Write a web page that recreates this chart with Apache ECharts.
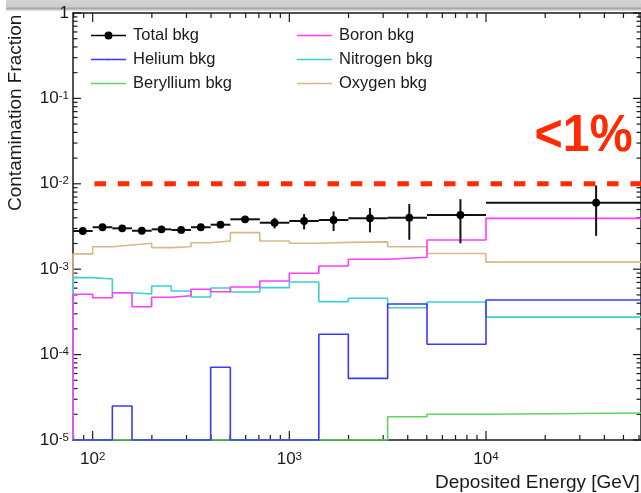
<!DOCTYPE html>
<html>
<head>
<meta charset="utf-8">
<script src="https://cdn.jsdelivr.net/npm/echarts@6/dist/echarts.min.js"></script>
<style>
  html, body { margin: 0; padding: 0; background: #fff; }
  #chart { width: 641px; height: 493px; }
</style>
</head>
<body>
<div id="chart"></div>
<script>
// Energy bin edges [GeV]
const binEdges = [79.43, 100, 125.9, 158.5, 199.5, 251.2, 316.2, 398.1, 501.2,
                  707.9, 1000, 1412.5, 1995.3, 3162.3, 5011.9, 10000, 100000];

// Contamination per background species, one value per bin (0 = empty bin)
const heliumBkg    = [0, 0, 2.5e-5, 0, 0, 0, 0, 7.1e-5, 0, 0, 0, 1.73e-4, 5.27e-5, 3.92e-4, 1.32e-4, 4.36e-4];
const berylliumBkg = [0, 0, 0, 0, 0, 0, 0, 0, 0, 0, 0, 0, 0, 1.87e-5, 2.0e-5, 2.09e-5];
const boronBkg     = [5.08e-4, 4.64e-4, 5.31e-4, 3.64e-4, 4.69e-4, 4.89e-4, 5.82e-4, 5.45e-4,
                      6.19e-4, 7.28e-4, 8.95e-4, 1.09e-3, 1.31e-3, 1.38e-3, 2.20e-3, 3.94e-3];
const nitrogenBkg  = [7.96e-4, 7.67e-4, 5.31e-4, 5.13e-4, 6.36e-4, 5.55e-4, 4.72e-4, 6.03e-4,
                      5.41e-4, 6.08e-4, 7.08e-4, 4.17e-4, 4.56e-4, 3.54e-4, 4.13e-4, 2.75e-4];
const oxygenBkg    = [1.51e-3, 1.83e-3, 1.92e-3, 2.01e-3, 1.79e-3, 1.83e-3, 2.04e-3, 2.14e-3,
                      2.68e-3, 2.14e-3, 2.01e-3, 2.06e-3, 2.09e-3, 1.83e-3, 1.53e-3, 1.21e-3];

// Total background: point energy, value and symmetric error
const totalEnergy = [89.1, 112.2, 141.3, 177.8, 223.9, 281.8, 354.8, 446.7,
                     595.7, 841.4, 1188.5, 1678.8, 2570, 4074, 7413, 36300];
const totalBkg    = [2.80e-3, 3.10e-3, 3.01e-3, 2.82e-3, 2.93e-3, 2.88e-3, 3.10e-3, 3.32e-3,
                     3.84e-3, 3.50e-3, 3.67e-3, 3.77e-3, 3.95e-3, 4.01e-3, 4.31e-3, 6.01e-3];
const totalErr    = [1.0e-4, 1.2e-4, 1.3e-4, 1.4e-4, 1.6e-4, 1.8e-4, 2.0e-4, 2.5e-4,
                     3.0e-4, 5.0e-4, 7.5e-4, 9.7e-4, 1.25e-3, 1.8e-3, 2.3e-3, 3.55e-3];

// Required contamination level
const limitLevel = 0.01;
const limitStart = 100;

// Axis ranges and tick values
const X_MIN = 79.43, X_MAX = 61400;
const Y_MIN = 1e-5, Y_MAX = 1;
const xMajorTicks = [100, 1000, 10000];
const xMinorTicks = [80, 90, 200, 300, 400, 500, 600, 700, 800, 900,
                     2000, 3000, 4000, 5000, 6000, 7000, 8000, 9000,
                     20000, 30000, 40000, 50000, 60000];
const yMajorTicks = [1e-5, 1e-4, 1e-3, 1e-2, 1e-1, 1];
const yMinorTicks = [];
[1e-5, 1e-4, 1e-3, 1e-2, 1e-1].forEach(function (d) {
  for (let k = 2; k <= 9; k++) yMinorTicks.push(+(d * k).toPrecision(3));
});

const FONT = '"Liberation Sans", Arial, Helvetica, sans-serif';
const INK = '#1a1a1a';
const MAJOR_LEN = 9, MINOR_LEN = 5;

// Histogram outline: rise from the axis floor, then a step per bin
function histSteps(values) {
  const pts = [[binEdges[0], Y_MIN]];
  values.forEach(function (v, i) {
    pts.push([binEdges[i], v > 0 ? v : Y_MIN]);
  });
  const last = values[values.length - 1];
  pts.push([binEdges[values.length], last > 0 ? last : Y_MIN]);
  return pts;
}

function stepSeries(name, values, color) {
  return {
    type: 'line', name: name, step: 'end', symbol: 'none',
    data: histSteps(values), clip: true, z: 5,
    lineStyle: { color: color, width: 1.6 },
    itemStyle: { color: color },
    animation: false
  };
}

function powerLabel(v) {
  const p = Math.round(Math.log10(v));
  if (p === 0) return '{b|1}';
  return '{b|10}{s|' + p + '}';
}

const labelRich = {
  b: { fontSize: 17, fontFamily: FONT, color: INK },
  s: { fontSize: 11.5, fontFamily: FONT, color: INK, verticalAlign: 'top' }
};

const frameLine = { show: true, lineStyle: { color: INK, width: 1.5 } };

// Frame: labelled bottom/left axes, mirrored top/right axes
const xAxes = [
  { type: 'log', min: X_MIN, max: X_MAX, position: 'bottom', axisLine: frameLine,
    axisTick: { show: false }, splitLine: { show: false },
    axisLabel: { customValues: xMajorTicks, margin: 11, formatter: powerLabel, rich: labelRich } },
  { type: 'log', min: X_MIN, max: X_MAX, position: 'top', axisLine: frameLine,
    axisTick: { show: false }, splitLine: { show: false }, axisLabel: { show: false } }
];
const yAxes = [
  { type: 'log', min: Y_MIN, max: Y_MAX, position: 'left', axisLine: frameLine,
    axisTick: { show: false }, splitLine: { show: false },
    axisLabel: { customValues: yMajorTicks, margin: 4, formatter: powerLabel, rich: labelRich } },
  { type: 'log', min: Y_MIN, max: Y_MAX, position: 'right', axisLine: frameLine,
    axisTick: { show: false }, splitLine: { show: false }, axisLabel: { show: false } }
];

// Tick marks placed with the axis scales, pointing into the frame on all four sides
const xTickData = xMajorTicks.map(function (v) { return [v, Y_MIN, MAJOR_LEN]; })
  .concat(xMinorTicks.map(function (v) { return [v, Y_MIN, MINOR_LEN]; }));
const yTickData = yMajorTicks.map(function (v) { return [X_MIN, v, MAJOR_LEN - 1]; })
  .concat(yMinorTicks.map(function (v) { return [X_MIN, v, MINOR_LEN - 0.5]; }));

const TICK_COLOR = '#1a1a1a';

function xTickItem(params, api) {
  const v = api.value(0), len = api.value(2);
  const b = api.coord([v, Y_MIN]), t = api.coord([v, Y_MAX]);
  return { type: 'group', children: [
    { type: 'line', shape: { x1: b[0], y1: b[1], x2: b[0], y2: b[1] - len }, style: { stroke: TICK_COLOR, lineWidth: 1.2 } },
    { type: 'line', shape: { x1: t[0], y1: t[1], x2: t[0], y2: t[1] + len }, style: { stroke: TICK_COLOR, lineWidth: 1.2 } }
  ] };
}
function yTickItem(params, api) {
  const v = api.value(1), len = api.value(2);
  const l = api.coord([X_MIN, v]), r = api.coord([X_MAX, v]);
  return { type: 'group', children: [
    { type: 'line', shape: { x1: l[0], y1: l[1], x2: l[0] + len, y2: l[1] }, style: { stroke: TICK_COLOR, lineWidth: 1.2 } },
    { type: 'line', shape: { x1: r[0], y1: r[1], x2: r[0] - len, y2: r[1] }, style: { stroke: TICK_COLOR, lineWidth: 1.2 } }
  ] };
}

const totalItems = totalEnergy.map(function (e, i) {
  return [binEdges[i], binEdges[i + 1], e, totalBkg[i], totalErr[i]];
});

const lineIcon = 'path://M0,0.55H35V1.85H0Z M18.6,1.2A1.1,1.1 0 1 1 16.4,1.2A1.1,1.1 0 1 1 18.6,1.2Z';
const legendText = { fontSize: 16.5, fontFamily: FONT, color: INK, padding: [0, 0, 0, 2] };

const chart = echarts.init(document.getElementById('chart'), null, { renderer: 'canvas' });

chart.setOption({
  animation: false,
  backgroundColor: '#ffffff',
  grid: { left: 73, top: 13, right: -1, bottom: 53, containLabel: false },
  xAxis: xAxes,
  yAxis: yAxes,
  legend: [
    {
      orient: 'vertical', left: 91, top: 27, itemWidth: 35, itemHeight: 14, itemGap: 7,
      padding: 0, symbolKeepAspect: true, textStyle: legendText,
      data: [
        { name: 'Total bkg', icon: 'path://M0,3.3H35V4.7H0Z M21.5,4A4,4 0 1 1 13.5,4A4,4 0 1 1 21.5,4Z' },
        { name: 'Helium bkg', icon: lineIcon },
        { name: 'Beryllium bkg', icon: lineIcon }
      ]
    },
    {
      orient: 'vertical', left: 297, top: 27, itemWidth: 35, itemHeight: 14, itemGap: 7,
      padding: 0, symbolKeepAspect: true, textStyle: legendText,
      data: [
        { name: 'Boron bkg', icon: lineIcon },
        { name: 'Nitrogen bkg', icon: lineIcon },
        { name: 'Oxygen bkg', icon: lineIcon }
      ]
    }
  ],
  graphic: [
    {
      type: 'rect', left: 6, top: 0, silent: true, z: -5,
      shape: { width: 640, height: 12 },
      style: {
        fill: new echarts.graphic.LinearGradient(0, 0, 0, 1, [
          { offset: 0, color: '#d6d6d6' },
          { offset: 0.55, color: '#cbcbcb' },
          { offset: 0.72, color: '#a6a6a6' },
          { offset: 0.87, color: '#dedede' },
          { offset: 1, color: 'rgba(255,255,255,0)' }
        ])
      }
    },
    {
      type: 'text', x: 25, y: 211, rotation: Math.PI / 2, silent: true,
      style: { text: 'Contamination Fraction', fontSize: 19, fontFamily: FONT,
               fill: INK, align: 'left', verticalAlign: 'bottom' }
    },
    {
      type: 'text', x: 435, y: 473, silent: true,
      style: { text: 'Deposited Energy [GeV]', fontSize: 19, fontFamily: FONT,
               fill: INK, align: 'left', verticalAlign: 'top' }
    },
    {
      type: 'text', x: 534.5, y: 111, scaleX: 0.93, silent: true,
      style: { text: '<1%', fontSize: 52, fontWeight: 'bold', fontFamily: FONT,
               fill: '#ff2a00', align: 'left', verticalAlign: 'top' }
    }
  ],
  series: [
    stepSeries('Oxygen bkg', oxygenBkg, '#d9b988'),
    stepSeries('Nitrogen bkg', nitrogenBkg, '#3fd0d0'),
    stepSeries('Boron bkg', boronBkg, '#ff3cff'),
    stepSeries('Beryllium bkg', berylliumBkg, '#5fd65f'),
    stepSeries('Helium bkg', heliumBkg, '#3a3aff'),
    {
      type: 'line', name: 'limit', symbol: 'none', clip: true, z: 6,
      data: [[limitStart, limitLevel], [X_MAX, limitLevel]],
      lineStyle: { color: '#ff2a00', width: 5, type: [11.5, 11.8], dashOffset: 21.5, cap: 'butt' },
      animation: false
    },
    {
      type: 'custom', name: 'Total bkg', clip: true, z: 8,
      itemStyle: { color: '#000' },
      encode: { x: [0, 1, 2], y: [3] },
      data: totalItems,
      renderItem: function (params, api) {
        const x0 = api.value(0), x1 = api.value(1), xc = api.value(2);
        const y = api.value(3), err = api.value(4);
        const pL = api.coord([x0, y]), pR = api.coord([x1, y]), pC = api.coord([xc, y]);
        const pLo = api.coord([xc, Math.max(y - err, Y_MIN)]);
        const pHi = api.coord([xc, y + err]);
        const st = { stroke: '#111', lineWidth: 2 };
        return {
          type: 'group',
          children: [
            { type: 'line', shape: { x1: pL[0], y1: pL[1], x2: pR[0], y2: pR[1] }, style: st },
            { type: 'line', shape: { x1: pLo[0], y1: pLo[1], x2: pHi[0], y2: pHi[1] }, style: st },
            { type: 'circle', shape: { cx: pC[0], cy: pC[1], r: 3.9 }, style: { fill: '#000' } }
          ]
        };
      }
    },
    {
      type: 'custom', name: 'xTicks', z: 3,
      encode: { x: 0, y: 1 }, data: xTickData, renderItem: xTickItem
    },
    {
      type: 'custom', name: 'yTicks', z: 3,
      encode: { x: 0, y: 1 }, data: yTickData, renderItem: yTickItem
    }
  ]
});
</script>
</body>
</html>
